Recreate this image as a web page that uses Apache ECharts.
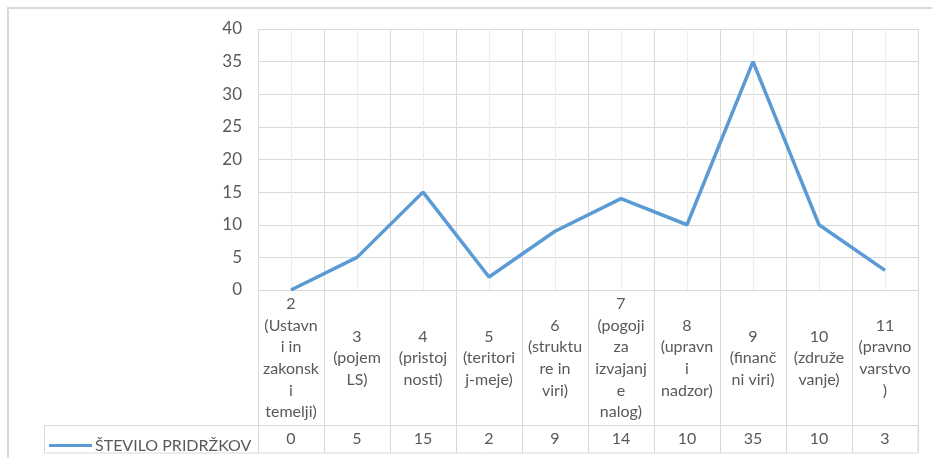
<!DOCTYPE html>
<html>
<head>
<meta charset="utf-8">
<script src="https://cdn.jsdelivr.net/npm/echarts@6/dist/echarts.min.js"></script>
<style>
  html, body { margin: 0; padding: 0; background: #ffffff; }
  #chart { width: 932px; height: 458px; }
</style>
</head>
<body>
<div id="chart"></div>
<script>
// Chapter categories, wrapped the way they appear in the table header
const categories = [
  '2\n(Ustavn\ni in\nzakonsk\ni\ntemelji)',
  '3\n(pojem\nLS)',
  '4\n(pristoj\nnosti)',
  '5\n(teritori\nj-meje)',
  '6\n(struktu\nre in\nviri)',
  '7\n(pogoji\nza\nizvajanj\ne\nnalog)',
  '8\n(upravn\ni\nnadzor)',
  '9\n(finanč\nni viri)',
  '10\n(združe\nvanje)',
  '11\n(pravno\nvarstvo\n)'
];
const seriesName = 'ŠTEVILO PRIDRŽKOV';
const reservations = [0, 5, 15, 2, 9, 14, 10, 35, 10, 3];
const yTicks = { min: 0, max: 40, step: 5 };

const FONT = 'Lato, "Open Sans", sans-serif';
const TEXT = '#595959';
const GRID = '#d9d9d9';
const LINE = '#5b9bd5';

const chart = echarts.init(document.getElementById('chart'), null, { renderer: 'canvas' });

const plotBox = { left: 258, right: 14 };

chart.setOption({
  animation: false,
  backgroundColor: '#ffffff',
  textStyle: { fontFamily: FONT },
  grid: [
    { left: plotBox.left, right: plotBox.right, top: 29, height: 261 },   // line plot
    { left: plotBox.left, right: plotBox.right, top: 290, bottom: 5 },    // table column rules
    { left: plotBox.left, right: plotBox.right, top: 425, bottom: 5 }     // value row
  ],
  legend: {
    data: [{ name: seriesName, icon: 'rect' }],
    left: 49,
    top: 437.5,
    padding: 0,
    itemWidth: 43,
    itemHeight: 3,
    itemGap: 4,
    itemStyle: { color: LINE },
    textStyle: { fontFamily: FONT, fontSize: 16, color: TEXT, padding: [0, 0, 0, -2] }
  },
  xAxis: [
    {
      type: 'category',
      gridIndex: 0,
      data: categories,
      boundaryGap: true,
      axisLine: { show: true, lineStyle: { color: GRID, width: 1 } },
      axisTick: { show: false },
      axisLabel: {
        interval: 0,
        fontFamily: FONT,
        fontSize: 16,
        color: TEXT,
        lineHeight: 21.6,
        align: 'center',
        verticalAlign: 'middle',
        margin: 68
      },
      splitLine: { show: true, interval: 0, lineStyle: { color: GRID, width: 1 } },
      z: 3
    },
    {
      // half-category guide lines through the plot
      type: 'value',
      gridIndex: 0,
      min: 0,
      max: categories.length * 2,
      interval: 1,
      position: 'top',
      axisLine: { show: false },
      axisTick: { show: false },
      axisLabel: { show: false },
      splitLine: { show: true, lineStyle: { color: '#ececec', width: 1 } },
      z: 1
    },
    {
      type: 'category',
      gridIndex: 1,
      data: categories,
      boundaryGap: true,
      axisLine: { show: false },
      axisTick: { show: false },
      axisLabel: { show: false },
      splitLine: { show: true, interval: 0, lineStyle: { color: GRID, width: 1 } }
    },
    {
      type: 'category',
      gridIndex: 2,
      data: reservations.map(String),
      boundaryGap: true,
      axisLine: { show: false },
      axisTick: { show: false },
      axisLabel: {
        interval: 0,
        fontFamily: FONT,
        fontSize: 16,
        color: TEXT,
        verticalAlign: 'middle',
        margin: -14
      },
      splitLine: { show: false }
    }
  ],
  yAxis: [
    {
      type: 'value',
      gridIndex: 0,
      min: yTicks.min,
      max: yTicks.max,
      interval: yTicks.step,
      axisLine: { show: false },
      axisTick: { show: false },
      axisLabel: { fontFamily: FONT, fontSize: 17, color: TEXT, margin: 16 },
      splitLine: { show: true, lineStyle: { color: GRID, width: 1 } }
    },
    { type: 'value', gridIndex: 1, show: false, min: 0, max: 1 },
    { type: 'value', gridIndex: 2, show: false, min: 0, max: 1 }
  ],
  series: [
    {
      name: seriesName,
      type: 'line',
      xAxisIndex: 0,
      yAxisIndex: 0,
      data: reservations,
      symbol: 'none',
      lineStyle: { color: LINE, width: 3.5 },
      itemStyle: { color: LINE },
      z: 5
    }
  ],
  graphic: [
    {
      // outer chart frame (top and left edges)
      type: 'polyline',
      shape: { points: [[8, 458], [8, 8], [932, 8]] },
      style: { stroke: '#d9d9d9', lineWidth: 2, fill: null },
      silent: true
    },
    {
      // legend + values row box
      type: 'rect',
      shape: { x: 44.5, y: 425.5, width: 873.5, height: 27.5 },
      style: { stroke: GRID, lineWidth: 1, fill: null },
      silent: true
    }
  ]
});
</script>
</body>
</html>
